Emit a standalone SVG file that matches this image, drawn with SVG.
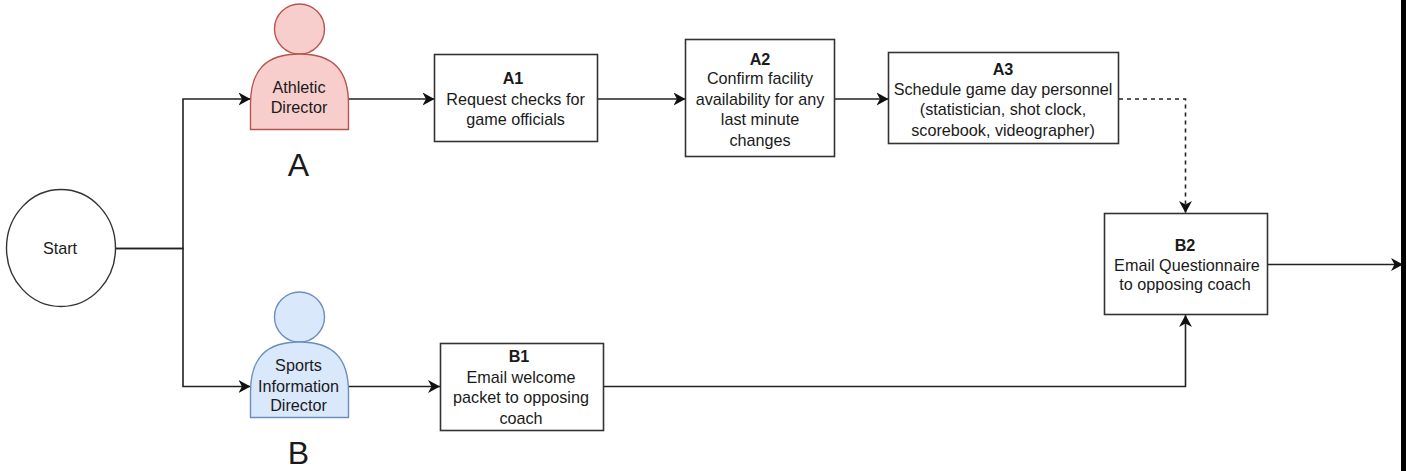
<svg xmlns="http://www.w3.org/2000/svg" width="1407" height="471" viewBox="0 0 1407 471">
<style>
text{font-family:"Liberation Sans",Arial,sans-serif;font-size:16.2px;fill:#1a1a1a;text-anchor:middle}
.b{font-weight:bold}
.big{font-size:32px}
.box{fill:#fff;stroke:#333;stroke-width:1.6}
.c{fill:none;stroke:#222;stroke-width:1.6}
.r{fill:#f8cecc;stroke:#b85450;stroke-width:1.4}
.u{fill:#dae8fc;stroke:#6c8ebf;stroke-width:1.4}
</style>
<defs>
<marker id="a" markerUnits="userSpaceOnUse" markerWidth="13" markerHeight="14" refX="12" refY="7" orient="auto"><path d="M0 0.500L12 7L0 13.500L3.500 7Z" fill="#111"/></marker>
</defs>
<rect width="1407" height="471" fill="#fff"/>
<g id="connectors">
<path class="c" d="M115 248.500H183V99H250.500" marker-end="url(#a)"/>
<path class="c" d="M115 248.500H183V386.500H250.500" marker-end="url(#a)"/>
<path class="c" d="M349 99H434.500" marker-end="url(#a)"/>
<path class="c" d="M598 99H685.500" marker-end="url(#a)"/>
<path class="c" d="M835 99H888.500" marker-end="url(#a)"/>
<path class="c" d="M1119 99H1185.500V213" stroke-dasharray="4 4" marker-end="url(#a)"/>
<path class="c" d="M349 386.500H440" marker-end="url(#a)"/>
<path class="c" d="M603 386.500H1185.500V315" marker-end="url(#a)"/>
<path class="c" d="M1267 264.500H1403" marker-end="url(#a)"/>
</g>
<g id="border"><rect x="1401" y="0" width="5" height="471" fill="#000"/></g>
<g id="start"><ellipse cx="61" cy="248" rx="54.500" ry="58.500" fill="#fff" stroke="#333" stroke-width="1.400"/><text x="60" y="254">Start</text></g>
<g id="actor-a">
<circle class="r" cx="299.500" cy="29" r="25"/>
<path class="r" d="M250.500 129.500V104C250.500 70 266 54 299.500 54S348.500 70 348.500 104V129.500Z"/>
<text x="299" y="93">Athletic</text><text x="299" y="113">Director</text>
<text class="big" x="298.500" y="175.500">A</text>
</g>
<g id="actor-b">
<circle class="u" cx="299.500" cy="317" r="25"/>
<path class="u" d="M250.500 417.500V392C250.500 358 266 342 299.500 342S348.500 358 348.500 392V417.500Z"/>
<text x="298.500" y="371">Sports</text><text x="298.500" y="392">Information</text><text x="298.500" y="411">Director</text>
<text class="big" x="298.500" y="464">B</text>
</g>
<g id="a1"><rect class="box" x="434.500" y="54.500" width="163" height="87"/>
<text class="b" x="513" y="84">A1</text><text x="515.500" y="105">Request checks for</text><text x="515.500" y="125">game officials</text></g>
<g id="a2"><rect class="box" x="685.500" y="39.500" width="149" height="117"/>
<text class="b" x="760" y="65">A2</text><text x="760" y="84">Confirm facility</text><text x="760" y="105">availability for any</text><text x="760" y="125">last minute</text><text x="760" y="146">changes</text></g>
<g id="a3"><rect class="box" x="888.500" y="52.500" width="230" height="91"/>
<text class="b" x="1003" y="75">A3</text><text x="1003" y="95">Schedule game day personnel</text><text x="1003" y="115">(statistician, shot clock,</text><text x="1003" y="136">scorebook, videographer)</text></g>
<g id="b1"><rect class="box" x="440.500" y="343.500" width="163" height="87"/>
<text class="b" x="519" y="362">B1</text><text x="521" y="383">Email welcome</text><text x="521" y="403">packet to opposing</text><text x="521" y="424">coach</text></g>
<g id="b2"><rect class="box" x="1104.500" y="213.500" width="163" height="101"/>
<text class="b" x="1185" y="251">B2</text><text x="1187" y="271">Email Questionnaire</text><text x="1185" y="290">to opposing coach</text></g>
</svg>
